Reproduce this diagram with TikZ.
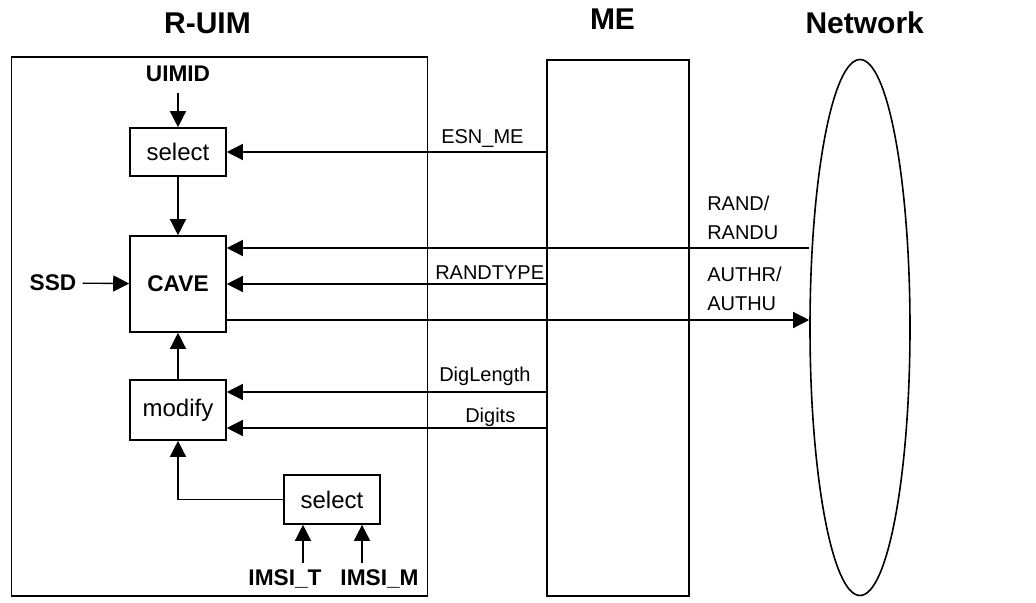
\documentclass[tikz,border=0pt]{standalone}
\usepackage{fontspec}
\setmainfont{Liberation Sans}
\usetikzlibrary{
    arrows.meta,
    shapes.geometric
}
\tikzset{
    frame/.style={
        rectangle,
        draw=black,
        line width=1.2pt,
        inner sep=0pt
    },
    block/.style={
        rectangle,
        draw=black,
        line width=1.2pt,
        align=center,
        inner sep=0pt,
        minimum width=72pt,
        font=\fontsize{18}{21}\selectfont
    },
    inname/.style={
        inner sep=4.5pt,
        anchor=base,
        font=\bfseries\fontsize{17}{20}\selectfont
    },
    title/.style={
        inner sep=0pt,
        anchor=base,
        font=\bfseries\fontsize{22.5}{27}\selectfont
    },
    sig/.style={
        inner sep=0pt,
        anchor=base west,
        align=left,
        font=\fontsize{15}{21.5}\selectfont
    },
    arrow/.style={
        -{Triangle[length=12pt, width=12pt]},
        line width=1pt
    }
}
\begin{document}
\begin{tikzpicture}[x=0.75pt, y=-0.75pt]
\useasboundingbox (0,0) rectangle (1036,603);

% titles
\node[title] (ruimtitle) at (207.5,33.3) {R-UIM};
\node[title] (metitle) at (612.5,29.3) {ME};
\node[title] (nettitle) at (864.7,33.3) {Network};

% the three parties
\node[frame, minimum width=312pt, minimum height=404.25pt] (ruim) at (219.5,326.5) {};
\node[frame, minimum width=106.5pt, minimum height=402pt] (me) at (618,328) {};
\node[ellipse, draw=black, line width=1.2pt, inner sep=0pt,
      minimum width=75pt, minimum height=402pt] (net) at (860,327.5) {};

% blocks inside the R-UIM
\node[block, minimum height=36pt] (select1) at (178,152) {select};
\node[block, minimum height=72pt, font=\bfseries\fontsize{17}{20}\selectfont] (cave) at (178,284) {CAVE};
\node[block, minimum height=45pt] (modify) at (178,410) {modify};
\node[block, minimum height=36.75pt] (select2) at (332,499.5) {select};

% inputs
\node[inname] (uimid) at (178,81.7) {UIMID};
\node[inname] (ssd) at (53,290.7) {SSD};
\node[inname] (imsit) at (285,585) {IMSI\_T};
\node[inname] (imsim) at (379.5,585) {IMSI\_M};

\draw[arrow, shorten <=3.75pt] (uimid) -- (select1);
\draw[arrow] (select1) -- (cave);
\draw[arrow] (ssd) -- (cave);
\draw[arrow] (modify) -- (cave);
\draw[arrow] (select2.west) -| (modify.south);
\draw[arrow] ([xshift=13.5pt]imsit.north) -- ([xshift=13.5pt]imsit.north |- select2.south);
\draw[arrow] ([xshift=-13.1pt]imsim.north) -- ([xshift=-13.1pt]imsim.north |- select2.south);

% signals between the parties
\coordinate (randin) at ([yshift=27pt]cave.east);
\coordinate (authout) at ([yshift=-27pt]cave.east);
\coordinate (diglen) at ([yshift=13.5pt]modify.east);
\coordinate (digits) at ([yshift=-13.5pt]modify.east);

\draw[arrow] (me.west |- select1.east) -- (select1.east);
\draw[arrow] (net.west |- randin) -- (randin);
\draw[arrow] (me.west |- cave.east) -- (cave.east);
\draw[arrow] (authout) -- (net.west |- authout);
\draw[arrow] (me.west |- diglen) -- (diglen);
\draw[arrow] (me.west |- digits) -- (digits);

\node[sig] (esnlbl) at (441,143) {ESN\_ME};
\node[sig] (randlbl) at (707,239.3) {RAND/\\RANDU};
\node[sig] (typelbl) at (435,279.3) {RANDTYPE};
\node[sig] (authlbl) at (707,310) {AUTHR/\\AUTHU};
\node[sig] (diglbl) at (439,381) {DigLength};
\node[sig] (digitslbl) at (465,422.7) {Digits};

\end{tikzpicture}
\end{document}
